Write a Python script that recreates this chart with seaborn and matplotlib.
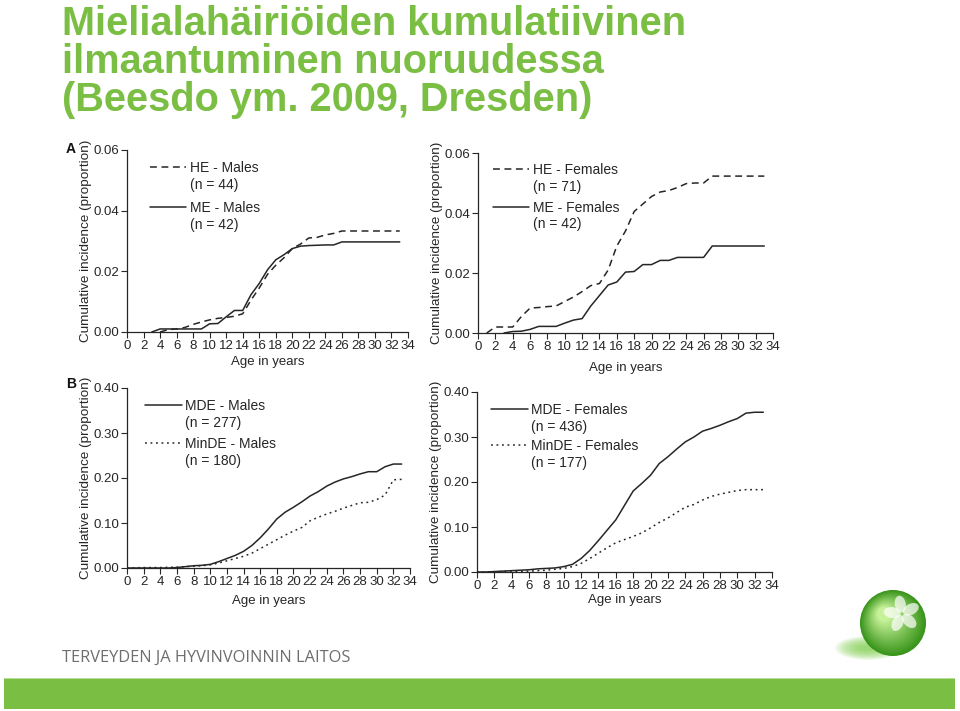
import matplotlib
matplotlib.use("Agg")
import matplotlib.pyplot as plt
from matplotlib.lines import Line2D
from matplotlib.legend import Legend
from matplotlib.patches import Rectangle, Circle, Ellipse
import numpy as np
import pandas as pd
import seaborn as sns

# ---------------- data ----------------
age_ticks = list(range(0, 35, 2))

he_m_age = list(range(4, 34))
he_m = [0, 0.0008, 0.001, 0.0015, 0.0025, 0.0033, 0.004, 0.0045, 0.0048, 0.0052, 0.006,
        0.0105, 0.0145, 0.019, 0.022, 0.0245, 0.0275, 0.029, 0.031, 0.0312, 0.032, 0.0325,
        0.0333, 0.0333, 0.0333, 0.0333, 0.0333, 0.0333, 0.0333, 0.0333]
me_m_age = list(range(3, 34))
me_m = [0, 0.001, 0.001, 0.001, 0.001, 0.001, 0.001, 0.0027, 0.0028, 0.005, 0.0071, 0.0071,
        0.0123, 0.016, 0.0205, 0.0238, 0.0255, 0.0275, 0.0283, 0.0285, 0.0286, 0.0287, 0.0287,
        0.0297, 0.0297, 0.0297, 0.0297, 0.0297, 0.0297, 0.0297, 0.0297]

he_f_age = list(range(1, 34))
he_f = [0, 0.002, 0.002, 0.002, 0.0055, 0.0083, 0.0085, 0.0088, 0.009, 0.0105, 0.012, 0.0138,
        0.0158, 0.0165, 0.021, 0.029, 0.034, 0.0405, 0.043, 0.0455, 0.047, 0.0475, 0.0485,
        0.0498, 0.05, 0.05, 0.0523, 0.0523, 0.0523, 0.0523, 0.0523, 0.0523, 0.0523]
me_f_age = list(range(3, 34))
me_f = [0, 0.0005, 0.0006, 0.0012, 0.0022, 0.0022, 0.0022, 0.0033, 0.0043, 0.0048, 0.009,
        0.0125, 0.016, 0.017, 0.0203, 0.0205, 0.0228, 0.0228, 0.0242, 0.0242, 0.0252, 0.0252,
        0.0252, 0.0252, 0.029, 0.029, 0.029, 0.029, 0.029, 0.029, 0.029]

dep_age = list(range(0, 34))
mde_m = [0, 0, 0, 0, 0, 0, 0.001, 0.003, 0.005, 0.006, 0.008, 0.014, 0.021, 0.028, 0.037, 0.05,
         0.067, 0.087, 0.109, 0.124, 0.135, 0.147, 0.16, 0.17, 0.182, 0.191, 0.198, 0.203,
         0.209, 0.214, 0.214, 0.225, 0.231, 0.231]
minde_m = [0, 0.0005, 0.001, 0.001, 0.001, 0.0015, 0.002, 0.003, 0.004, 0.005, 0.007, 0.011,
           0.016, 0.021, 0.026, 0.033, 0.043, 0.053, 0.063, 0.073, 0.082, 0.09, 0.105, 0.113,
           0.12, 0.126, 0.133, 0.139, 0.145, 0.146, 0.152, 0.162, 0.196, 0.197]
mde_f = [0, 0, 0.001, 0.002, 0.003, 0.004, 0.005, 0.007, 0.008, 0.009, 0.012, 0.017, 0.03,
         0.048, 0.07, 0.093, 0.116, 0.148, 0.18, 0.197, 0.215, 0.241, 0.256, 0.273, 0.289, 0.3,
         0.313, 0.319, 0.326, 0.334, 0.341, 0.353, 0.355, 0.355]
minde_f = [0, 0, 0.0005, 0.001, 0.001, 0.0015, 0.002, 0.003, 0.004, 0.006, 0.008, 0.012, 0.019,
           0.03, 0.042, 0.054, 0.065, 0.072, 0.079, 0.087, 0.098, 0.11, 0.12, 0.132, 0.144,
           0.15, 0.16, 0.168, 0.173, 0.177, 0.181, 0.183, 0.183, 0.183]

title_lines = ["Mielialahäiriöiden kumulatiivinen", "ilmaantuminen nuoruudessa",
               "(Beesdo ym. 2009, Dresden)"]
footer_text = "TERVEYDEN JA HYVINVOINNIN LAITOS"

# ---------------- style ----------------
sns.set_theme(style="ticks")
plt.rcParams["font.family"] = ["Liberation Sans", "DejaVu Sans"]
INK = "#262626"
GREEN = "#7abf43"

fig = plt.figure(figsize=(9.6, 7.11), dpi=100)
W, H = 960, 711


def axes_px(x0, x1, ytop, ybot):
    return fig.add_axes([x0 / W, 1 - ybot / H, (x1 - x0) / W, (ybot - ytop) / H])


DASH = (0, (4.5, 3.0))
DOT = (0, (1.2, 2.4))


def style_axes(ax, ymax, ystep, fmt, ylab_x, xlab_y):
    ax.set_xlim(0, 34)
    ax.set_ylim(0, ymax)
    ax.set_xticks(age_ticks)
    yt = np.round(np.arange(0, ymax + ystep / 2, ystep), 3)
    ax.set_yticks(yt)
    ax.set_yticklabels([fmt.format(v) for v in yt])
    for s in ["top", "right"]:
        ax.spines[s].set_visible(False)
    for s in ["left", "bottom"]:
        ax.spines[s].set_color(INK)
        ax.spines[s].set_linewidth(0.9)
    ax.tick_params(direction="out", length=4, width=0.8, color=INK, labelcolor=INK, pad=2)
    ax.tick_params(axis="x", labelsize=9.5)
    ax.tick_params(axis="y", labelsize=9.5, pad=1.5)
    ax.set_xlabel("Age in years", fontsize=9.5, color=INK)
    ax.set_ylabel("Cumulative incidence (proportion)", fontsize=9.7, color=INK)
    ax.yaxis.set_label_coords(ylab_x, 0.5)
    ax.xaxis.set_label_coords(0.5, xlab_y)
    ax.set_facecolor("white")


def add_entry(ax, ls, name, n, x, ytop):
    h = Line2D([], [], color=INK, lw=1.1, linestyle=ls)
    blank = Line2D([], [], color="none")
    leg = Legend(ax, [h, blank], [name, n], loc="upper left", bbox_to_anchor=(x, ytop),
                 frameon=False, borderpad=0, borderaxespad=0, handlelength=2.6,
                 handletextpad=0.25, labelspacing=0.2, fontsize=10)
    for t in leg.get_texts():
        t.set_color(INK)
    ax.add_artist(leg)


def series(ax, ages, vals, ls):
    df = pd.DataFrame({"age": ages, "ci": vals})
    sns.lineplot(data=df, x="age", y="ci", ax=ax, color=INK, linewidth=1.1,
                 linestyle=ls, legend=False)


# Panel A left
axA1 = axes_px(127, 408, 150, 332)
series(axA1, he_m_age, he_m, DASH)
series(axA1, me_m_age, me_m, "-")
style_axes(axA1, 0.06, 0.02, "{:.2f}", -0.126, -0.133)
add_entry(axA1, DASH, "HE - Males", "(n = 44)", 0.083, 0.94)
add_entry(axA1, "-", "ME - Males", "(n = 42)", 0.083, 0.72)

# Panel A right
axA2 = axes_px(478, 773, 153, 333)
series(axA2, he_f_age, he_f, DASH)
series(axA2, me_f_age, me_f, "-")
style_axes(axA2, 0.06, 0.02, "{:.2f}", -0.117, -0.163)
add_entry(axA2, DASH, "HE - Females", "(n = 71)", 0.051, 0.945)
add_entry(axA2, "-", "ME - Females", "(n = 42)", 0.051, 0.735)

# Panel B left
axB1 = axes_px(127, 410, 388, 568)
series(axB1, dep_age, mde_m, "-")
series(axB1, dep_age, minde_m, DOT)
style_axes(axB1, 0.40, 0.10, "{:.2f}", -0.122, -0.148)
add_entry(axB1, "-", "MDE - Males", "(n = 277)", 0.065, 0.94)
add_entry(axB1, DOT, "MinDE - Males", "(n = 180)", 0.065, 0.727)

# Panel B right
axB2 = axes_px(477, 772, 392, 572)
series(axB2, dep_age, mde_f, "-")
series(axB2, dep_age, minde_f, DOT)
style_axes(axB2, 0.40, 0.10, "{:.2f}", -0.117, -0.123)
add_entry(axB2, "-", "MDE - Females", "(n = 436)", 0.049, 0.94)
add_entry(axB2, DOT, "MinDE - Females", "(n = 177)", 0.049, 0.74)

# panel letters
fig.text(66 / W, 1 - 149 / H, "A", fontsize=10, fontweight="bold", color="#111",
         va="center")
fig.text(66 / W, 1 - 384 / H, "B", fontsize=10, fontweight="bold", color="#111",
         va="center")

# title
for line, yb in zip(title_lines, [35, 73, 111]):
    fig.text(62 / W, 1 - yb / H, line, fontsize=28.6, fontweight="bold", color=GREEN,
             va="baseline", ha="left")

# footer
fig.text(62 / W, 1 - 658 / H, footer_text, fontsize=11.8, color="#6e6e6e", va="center",
         ha="left", family=["Open Sans", "DejaVu Sans"])
fig.patches.append(Rectangle((4 / W, 1 - 709 / H), 951 / W, 31 / H, transform=fig.transFigure,
                             facecolor=GREEN, edgecolor="none", zorder=1))
fig.patches.append(Rectangle((4 / W, 1 - 679 / H), 951 / W, 1.5 / H, transform=fig.transFigure,
                             facecolor="#b8dd98", edgecolor="none", zorder=2))

# logo (decorative glass sphere)
lax = fig.add_axes([830 / W, 1 - 672 / H, 130 / W, 90 / H])
lax.set_xlim(830, 960)
lax.set_ylim(672, 582)
lax.set_aspect("equal")
lax.axis("off")
for k in range(14):
    lax.add_patch(Ellipse((868, 648), 66 - 3.8 * k, 24 - 1.5 * k, facecolor="#7fcf4a",
                          alpha=0.09, edgecolor="none"))
cx, cy, r = 893, 623, 33
outer = np.array([0.22, 0.58, 0.10])
inner = np.array([0.78, 0.95, 0.60])
steps = 30
for k in range(steps):
    f = k / (steps - 1)
    col = outer * (1 - f) + inner * f
    rr = r * (1 - 0.8 * f)
    lax.add_patch(Circle((cx - 9 * f, cy - 9 * f), rr, facecolor=col, edgecolor="none"))
fx, fy = cx + 9, cy - 9
for ang in [100, 172, 244, 316, 28]:
    a = np.deg2rad(ang)
    lax.add_patch(Ellipse((fx + 10 * np.cos(a), fy - 10 * np.sin(a)), 17, 11,
                          angle=-ang, facecolor="white", alpha=0.7, edgecolor="none"))

fig.savefig("out.png", dpi=100, facecolor="white")
